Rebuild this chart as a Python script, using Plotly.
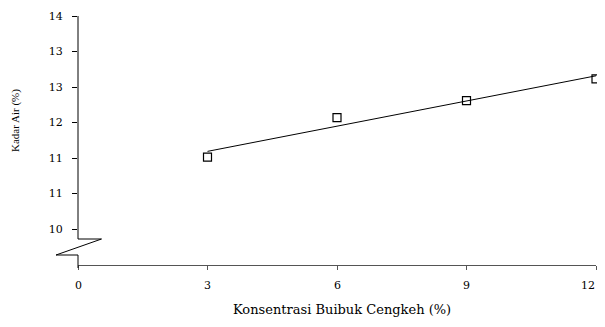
import numpy as np
import plotly.graph_objects as go

# Data
konsentrasi = [3, 6, 9, 12]
kadar_air = [11.35, 12.09, 12.41, 12.82]
x_ticks = [0, 3, 6, 9, 12]
y_tick_vals = [10 + i * 2 / 3 for i in range(7)]
y_tick_text = ["10", "11", "11", "12", "13", "13", "14"]

FONT_H = "DejaVu Serif"      # horizontal text (source image is stretched sideways)
FONT_V = "Liberation Serif"  # rotated axis title

OFF = 8  # browser body margin
W, H = 605 - 2 * OFF, 327 - 2 * OFF
# plot area in screen pixels
SL, SR, ST, SB = 78, 596, 16, 265
ML, MR, MT, MB = SL - OFF, W - (SR - OFF), ST - OFF, H - (SB - OFF)
PW, PH = SR - SL, SB - ST


def px(x):
    return (x - SL) / PW


def py(y):
    return (SB - y) / PH


slope, intercept = np.polyfit(konsentrasi, kadar_air, 1)
trend_x = [konsentrasi[0], konsentrasi[-1]]
trend_y = [slope * v + intercept for v in trend_x]

fig = go.Figure()
fig.add_trace(go.Scatter(x=trend_x, y=trend_y, mode="lines",
                         line=dict(color="black", width=1), showlegend=False,
                         hoverinfo="skip"))
fig.add_trace(go.Scatter(x=konsentrasi, y=kadar_air, mode="markers",
                         marker=dict(symbol="square-open", size=8, color="black",
                                     line=dict(width=1.2, color="black")),
                         showlegend=False, cliponaxis=False))

axis_col = "#555555"
# broken y-axis drawn as a path in paper coordinates
path = "M {} {} L {} {} L {} {} L {} {} L {} {} L {} {}".format(
    px(78), py(16), px(78), py(239), px(101.5), py(239),
    px(56), py(255), px(78), py(255), px(78), py(268))
fig.add_shape(type="path", xref="paper", yref="paper", path=path,
              line=dict(color="black", width=1))

# x tick labels as annotations so the last one stays inside the page
tick_annots = []
for i, v in enumerate(x_ticks):
    last = i == len(x_ticks) - 1
    tick_annots.append(dict(
        text=str(v), xref="x", yref="paper", x=v, y=py(285.5),
        showarrow=False, xanchor="right" if last else "center", yanchor="middle",
        xshift=1 if last else 0, font=dict(family=FONT_H, size=11)))

fig.update_layout(
    width=W, height=H,
    margin=dict(l=ML, r=MR, t=MT, b=MB, autoexpand=False),
    plot_bgcolor="white", paper_bgcolor="white",
    font=dict(family=FONT_H, size=11, color="black"),
    xaxis=dict(range=[0, 12], tickvals=x_ticks, ticks="outside", ticklen=4,
               tickcolor=axis_col, showline=True, linecolor=axis_col, linewidth=1.3,
               showgrid=False, zeroline=False, showticklabels=False),
    yaxis=dict(range=[14 - PH / 53.25, 14], tickvals=y_tick_vals, ticktext=y_tick_text,
               ticks="outside", ticklen=5, tickcolor="black", showline=False,
               showgrid=False, zeroline=False, ticklabelstandoff=7,
               tickfont=dict(family=FONT_H, size=11)),
    annotations=tick_annots + [
        dict(text="Konsentrasi Buibuk Cengkeh (%)", xref="paper", yref="paper",
             x=px(342), y=py(309), showarrow=False, xanchor="center", yanchor="middle",
             font=dict(family=FONT_H, size=13)),
        dict(text="Kadar Air (%)", xref="paper", yref="paper",
             x=px(15), y=py(121), showarrow=False, textangle=-90,
             xanchor="center", yanchor="middle", font=dict(family=FONT_V, size=11, color="black")),
    ],
)

fig.write_html("out.html")
